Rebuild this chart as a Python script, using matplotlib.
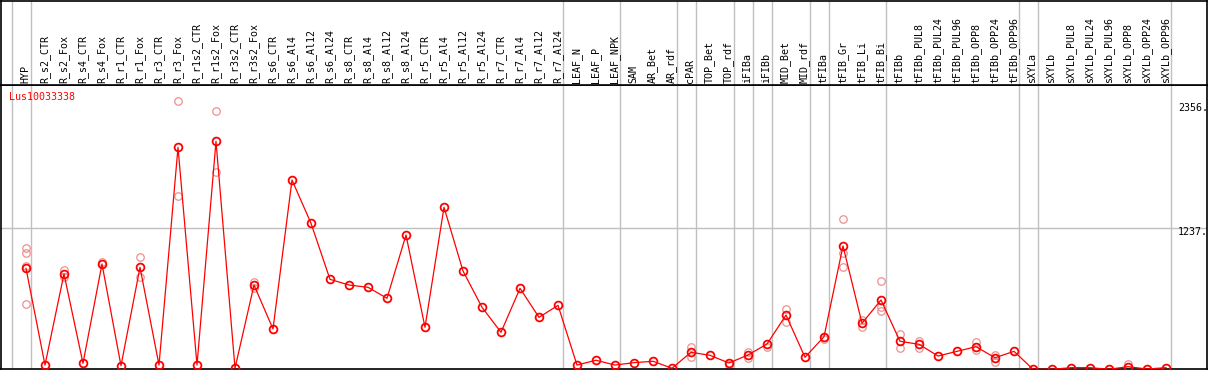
import numpy as np
import matplotlib
matplotlib.use("Agg")
import matplotlib.pyplot as plt
from matplotlib.transforms import blended_transform_factory

# sample names (columns)
samples = ["HYP", "R_s2_CTR", "R_s2_Fox", "R_s4_CTR", "R_s4_Fox", "R_r1_CTR",
           "R_r1_Fox", "R_r3_CTR", "R_r3_Fox", "R_r1s2_CTR", "R_r1s2_Fox",
           "R_r3s2_CTR", "R_r3s2_Fox", "R_s6_CTR", "R_s6_Al4", "R_s6_Al12",
           "R_s6_Al24", "R_s8_CTR", "R_s8_Al4", "R_s8_Al12", "R_s8_Al24",
           "R_r5_CTR", "R_r5_Al4", "R_r5_Al12", "R_r5_Al24", "R_r7_CTR",
           "R_r7_Al4", "R_r7_Al12", "R_r7_Al24", "LEAF_N", "LEAF_P",
           "LEAF_NPK", "SAM", "AR_Bet", "AR_rdf", "cPAR", "TOP_Bet", "TOP_rdf",
           "iFIBa", "iFIBb", "MID_Bet", "MID_rdf", "tFIBa", "tFIB_Gr",
           "tFIB_Li", "tFIB_Bi", "tFIBb", "tFIBb_PUL8", "tFIBb_PUL24",
           "tFIBb_PUL96", "tFIBb_OPP8", "tFIBb_OPP24", "tFIBb_OPP96", "sXYLa",
           "sXYLb", "sXYLb_PUL8", "sXYLb_PUL24", "sXYLb_PUL96", "sXYLb_OPP8",
           "sXYLb_OPP24", "sXYLb_OPP96"]

# mean expression per sample
means = [886, 39, 837, 54, 924, 33, 895, 39, 1946, 39, 1999, 11, 740, 355,
         1660, 1281, 790, 740, 720, 624, 1178, 370, 1421, 863, 545, 326, 711,
         457, 562, 39, 81, 39, 60, 72, 11, 151, 124, 57, 127, 223, 477, 107,
         287, 1082, 405, 609, 247, 221, 118, 159, 200, 103, 159, 2, 2, 16, 16,
         2, 25, 4, 16]

# replicate values (index of sample, value)
rep_idx = [0, 0, 0, 0, 2, 2, 4, 6, 6, 8, 8, 10, 10, 12, 12,
           35, 35, 37, 38, 38, 39, 40, 40, 42, 43, 43, 43, 44, 44,
           45, 45, 45, 46, 46, 47, 47, 50, 50, 51, 51, 58]
rep_val = [1062, 1018, 907, 574, 872, 813, 944, 983, 813, 2356, 1520, 2267,
           1733, 769, 711,
           200, 112, 39, 156, 98, 200, 530, 419, 265, 1316, 1018, 895, 434, 375,
           775, 550, 512, 311, 186, 250, 191, 244, 171, 127, 68, 46]

# last sample of each group (gray separators)
group_ends = [-1, 0, 28, 31, 34, 35, 37, 38, 39, 41, 42, 45, 52, 53, 60]

gene = "Lus10033338"
y_max = 2356
y_mid = 1237

W, H = 1209, 370
fig = plt.figure(figsize=(W / 100, H / 100), dpi=100)

mono = "DejaVu Sans Mono"
fs = 7.2
grid_c = "#c0c0c0"

# plot area: pixels x 1..1207, y 85..369 (from top)
ax = fig.add_axes([1 / W, 1 / H, 1206 / W, 284 / H])
lab = fig.add_axes([1 / W, 285 / H, 1206 / W, 84.5 / H])

x = np.arange(len(samples))
xlo, xhi = (1 - 26) / 19, (1207 - 26) / 19
k = 8.76  # value per pixel
ax.set_xlim(xlo, xhi)
ax.set_ylim(0.5 * k, 284.5 * k)
lab.set_xlim(xlo, xhi)
lab.set_ylim(0, 1)

for a in (ax, lab):
    a.set_xticks([])
    a.set_yticks([])
    for s in a.spines.values():
        s.set_color("black")
        s.set_linewidth(1.2)
    for g in group_ends:
        a.axvline(g + 4.5 / 19, color=grid_c, lw=1.0, zorder=0)

ax.axhline(y_mid, color=grid_c, lw=1.0, zorder=0)

# replicates
ax.plot(rep_idx, rep_val, ls="none", marker="o", ms=5.4, mfc="none",
        mec="#ee9090", mew=0.9, zorder=2)
# mean line
ax.plot(x, means, color="red", lw=0.9, marker="o", ms=5.6, mfc="none",
        mec="red", mew=1.3, zorder=3)

# sample labels
tr = blended_transform_factory(lab.transData, lab.transAxes)
for i, s in enumerate(samples):
    lab.text(i - 0.03, 0.02, s, rotation=90, ha="center", va="bottom",
             family=mono, fontsize=fs, transform=tr)

# right-side value labels
xr = (1178 - 26) / 19
ax.annotate(f"{y_max}.", xy=(xr, y_max), xytext=(0, -5.5),
            textcoords="offset points", ha="left", va="center",
            family=mono, fontsize=fs)
ax.annotate(f"{y_mid}.", xy=(xr, y_mid), xytext=(0, -2.5),
            textcoords="offset points", ha="left", va="center",
            family=mono, fontsize=fs)
ax.annotate("0", xy=(xr, 0), xytext=(0, 5.5),
            textcoords="offset points", ha="left", va="center",
            family=mono, fontsize=fs)

ax.text(8 / 1206, 1 - 12 / 284, gene, transform=ax.transAxes, color="red",
        ha="left", va="center", family=mono, fontsize=fs)

fig.savefig("out.png", dpi=100)
